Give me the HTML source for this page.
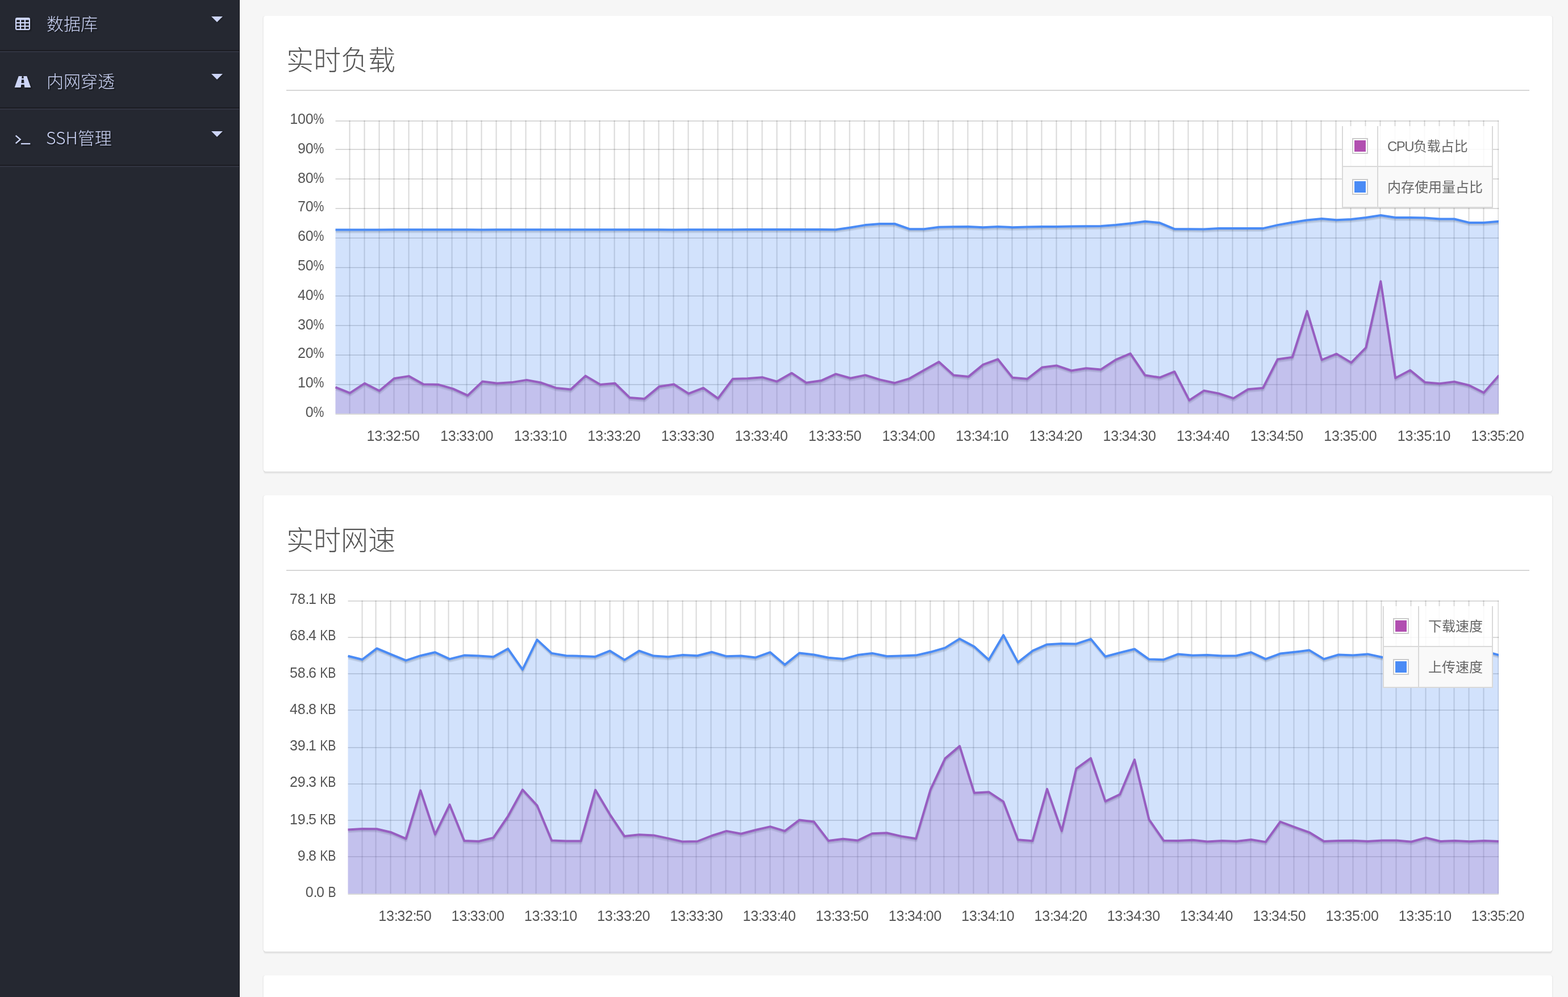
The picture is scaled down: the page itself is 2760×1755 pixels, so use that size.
<!DOCTYPE html>
<html lang="zh-CN">
<head>
<meta charset="utf-8">
<title>服务器监控</title>
<style>
html,body{margin:0;padding:0}
body{width:2760px;height:1755px;overflow:hidden;position:relative;background:#f6f6f6;font-family:"Liberation Sans","Noto Sans CJK SC",sans-serif;color:#545454}
#side{position:absolute;left:0;top:0;width:421px;height:1755px;background:#252831;border-right:1px solid #191a20;overflow:hidden}
#sideline{position:absolute;left:422px;top:0;width:1px;height:1755px;background:#fff}
#side ul{list-style:none;margin:0;padding:0}
#side li{position:absolute;left:0;width:421px;height:97px;border-top:2px solid #323542;border-bottom:2px solid #1b1c22;color:#cdd5f7;font-family:"Noto Sans CJK SC","Liberation Sans",sans-serif;font-size:30px;line-height:97px;font-weight:300}
#side .last{position:absolute;left:0;top:292px;width:421px;height:2px;background:#323542}
#side .nt{position:absolute;left:81px;top:0;white-space:nowrap;text-shadow:2px 2px 1px rgba(0,0,0,.4)}
#side .ic{position:absolute;fill:currentColor;filter:drop-shadow(2px 2px 1px rgba(0,0,0,.4));overflow:visible}
#side .caret{position:absolute;left:372px;top:37.5px;width:0;height:0;border-left:10px solid transparent;border-right:10px solid transparent;border-top:10.5px solid #cdd5f7;filter:drop-shadow(1px 1px 1px rgba(0,0,0,.4))}
.card{position:absolute;left:464px;width:2268px;background:#fff;border-radius:4px;box-shadow:0 2px 0 rgba(0,0,0,.05),0 4px 0 rgba(0,0,0,.045),-2px 0 0 rgba(0,0,0,.03),2px 0 0 rgba(0,0,0,.03)}
.card h2{position:absolute;left:40px;top:47px;margin:0;font-size:48px;line-height:64px;font-weight:300;color:#555;white-space:nowrap}
.card .hr{position:absolute;left:40px;top:130px;width:2188px;height:2px;background:#d6d6d6}
#plot{position:absolute;left:0;top:0}
.yl,.xl{position:absolute;width:200px;height:28px;line-height:28px;font-size:25px;color:#545454;white-space:nowrap;font-family:"Liberation Sans",sans-serif}
.yl{text-align:right;letter-spacing:-0.2px}
.s{display:inline-block;transform:scaleX(.845);transform-origin:right center;letter-spacing:0}
.s.p{margin-left:-3.4px}
.s.k{margin-left:-5.2px}
.s.b{margin-left:-2.6px}
.c{letter-spacing:-1.45px}
.xl{text-align:center;letter-spacing:-0.2px}
.lg{position:absolute;font-size:24px;color:#666}
.lgbg{position:absolute;left:0;top:0;right:0;bottom:0;background:#fff;opacity:.85}
.lgr2{position:absolute;left:2px;right:2px;background:#f9f9f9}
.lgv{position:absolute;top:0;bottom:0;width:2px;background:#d9d9d9}
.lgh{position:absolute;left:0;right:0;height:2px;background:#d9d9d9}
.lgbox{position:absolute;left:18px;width:20px;height:20px;border:2px solid #ccc;padding:2px;background:#fff}
.lgbox i{display:block;width:20px;height:20px}
.lgt{position:absolute;height:70px;line-height:70px;white-space:nowrap;margin-top:0.5px}
.lat{letter-spacing:-1.6px}
</style>
</head>
<body>
<div id="side"><ul>
<li style="top:-11px"><svg class="ic" style="left:27px;top:40px" width="26" height="22" viewBox="0 0 26 22"><path fill-rule="evenodd" d="M3 0h20a3 3 0 0 1 3 3v16a3 3 0 0 1-3 3H3a3 3 0 0 1-3-3V3a3 3 0 0 1 3-3zM2.2 4.3v3.7h5.7V4.3zM10.2 4.3v3.7h5.6V4.3zM18.1 4.3v3.7h5.7V4.3zM2.2 10.2v3.7h5.7v-3.7zM10.2 10.2v3.7h5.6v-3.7zM18.1 10.2v3.7h5.7v-3.7zM2.2 16.1v3.7h5.7v-3.7zM10.2 16.1v3.7h5.6v-3.7zM18.1 16.1v3.7h5.7v-3.7z"/></svg><span class="nt" style="left:82px;top:1px">数据库</span><b class="caret"></b></li>
<li style="top:90px"><svg class="ic" style="left:25px;top:42px" width="30" height="21" viewBox="0 0 30 21"><path d="M7.8 0h5.9l-.5 3.9h3.6L16.3 0h5.9L29.3 20.1H18.3l-.6-5h-5.4l-.6 5H.7zM13 6.3l-.5 6h5l-.5-6z"/></svg><span class="nt" style="left:82px;top:1px">内网穿透</span><b class="caret"></b></li>
<li style="top:191px"><svg class="ic" style="left:25px;top:42.5px" width="30" height="20" viewBox="0 0 30 20"><path d="M2.7 2.6l8 6.9-8 6.9" fill="none" stroke="currentColor" stroke-width="2.4"/><rect x="12" y="15.9" width="16.3" height="2.3"/></svg><span class="nt" style="left:81px;top:0px">SSH管理</span><b class="caret"></b></li>
</ul><div class="last"></div></div>
<div id="sideline"></div>
<div class="card" style="top:28px;height:802px"><h2>实时负载</h2><div class="hr"></div></div>
<div class="card" style="top:872px;height:803px"><h2 style="top:48px">实时网速</h2><div class="hr" style="top:131px"></div></div>
<div class="card" style="top:1717px;height:200px"></div>
<svg id="plot" width="2638" height="1755" viewBox="0 0 2638 1755"><g transform="translate(0.5,0)">
<path d="M615 212V728M641 212V728M667 212V728M693 212V728M719 212V728M743 212V728M769 212V728M795 212V728M821 212V728M847 212V728M873 212V728M899 212V728M925 212V728M951 212V728M977 212V728M1003 212V728M1029 212V728M1055 212V728M1081 212V728M1107 212V728M1133 212V728M1159 212V728M1185 212V728M1211 212V728M1237 212V728M1263 212V728M1289 212V728M1315 212V728M1341 212V728M1367 212V728M1391 212V728M1417 212V728M1443 212V728M1469 212V728M1495 212V728M1521 212V728M1547 212V728M1573 212V728M1599 212V728M1625 212V728M1651 212V728M1677 212V728M1703 212V728M1729 212V728M1755 212V728M1781 212V728M1807 212V728M1833 212V728M1859 212V728M1885 212V728M1911 212V728M1937 212V728M1963 212V728M1989 212V728M2015 212V728M2039 212V728M2065 212V728M2091 212V728M2117 212V728M2143 212V728M2169 212V728M2195 212V728M2221 212V728M2247 212V728M2273 212V728M2299 212V728M2325 212V728M2351 212V728M2377 212V728M2403 212V728M2429 212V728M2455 212V728M2481 212V728M2507 212V728M2533 212V728M2559 212V728M2585 212V728M2611 212V728M2637 212V728" stroke="rgba(0,0,0,0.15)" stroke-width="2" fill="none"/>
<path d="M590 213H2638M590 263H2638M590 315H2638M590 367H2638M590 419H2638M590 471H2638M590 521H2638M590 573H2638M590 625H2638M590 677H2638M590 729H2638" stroke="rgba(0,0,0,0.15)" stroke-width="2" fill="none"/>
<polyline points="590.7,685.5 616.1,695.7 642,678.7 668,691.9 693.9,670.2 719.8,666 745.7,680.4 771.6,680.8 797.6,688.3 823.5,700 849.4,675.5 875.3,678.7 901.2,677 927.2,672.8 953.1,677.7 979,686.8 1004.9,689.4 1030.8,665.5 1056.8,680.8 1082.7,678.7 1108.6,703.8 1134.5,705.9 1160.4,684.5 1186.4,680.4 1212.3,696.8 1238.2,686.8 1264.1,705.3 1290,670.9 1316,670.2 1341.9,668.1 1367.8,675.5 1393.7,660.6 1419.6,677.7 1445.6,674 1471.5,662.3 1497.4,669.6 1523.3,664.3 1549.2,672.3 1575.2,678.1 1601.1,670.2 1627,655.5 1652.9,640.9 1678.8,664.3 1704.8,667 1730.7,645.8 1756.6,636.2 1782.5,668.7 1808.4,670.9 1834.4,650.7 1860.3,647.5 1886.2,656.4 1912.1,652.1 1938,654.3 1964,637.3 1989.9,626.2 2015.8,664.5 2041.7,668.5 2067.6,658.1 2093.6,708.5 2119.5,691.5 2145.4,696.5 2171.3,705 2197.2,689.1 2223.2,687 2249.1,636.4 2275,632.7 2300.9,551.5 2326.8,637.4 2352.8,626.8 2378.7,642.3 2404.6,615.7 2430.5,499.2 2456.4,669.5 2482.3,655.7 2508.3,676.8 2534.2,679.1 2560.1,675.9 2586,682.1 2612,695.1 2638.7,664.6" fill="none" stroke="rgba(0,0,0,0.1)" stroke-width="4" stroke-linejoin="round"/>
<polyline points="590.5,684.6 615.9,694.8 641.9,677.8 667.8,691 693.7,669.2 719.6,665.1 745.5,679.5 771.5,679.9 797.4,687.4 823.3,699.1 849.2,674.6 875.1,677.8 901.1,676.1 927,671.9 952.9,676.8 978.8,685.9 1004.7,688.5 1030.7,664.6 1056.6,679.9 1082.5,677.8 1108.4,702.9 1134.3,705 1160.3,683.6 1186.2,679.5 1212.1,695.9 1238,685.9 1263.9,704.4 1289.9,670 1315.8,669.2 1341.7,667.2 1367.6,674.6 1393.5,659.7 1419.5,676.8 1445.4,673.1 1471.3,661.4 1497.2,668.7 1523.1,663.4 1549.1,671.4 1575,677.2 1600.9,669.2 1626.8,654.6 1652.7,640 1678.7,663.4 1704.6,666.1 1730.5,644.9 1756.4,635.2 1782.3,667.8 1808.3,670 1834.2,649.8 1860.1,646.6 1886,655.5 1911.9,651.2 1937.9,653.4 1963.8,636.4 1989.7,625.2 2015.6,663.6 2041.5,667.6 2067.5,657.2 2093.4,707.6 2119.3,690.6 2145.2,695.6 2171.1,704.1 2197.1,688.2 2223,686.1 2248.9,635.5 2274.8,631.8 2300.7,550.6 2326.7,636.5 2352.6,625.9 2378.5,641.4 2404.4,614.8 2430.3,498.2 2456.3,668.6 2482.2,654.8 2508.1,675.9 2534,678.2 2559.9,675 2585.9,681.2 2611.8,694.2 2638.5,663.7" fill="none" stroke="rgba(0,0,0,0.1)" stroke-width="2" stroke-linejoin="round"/>
<polygon points="590,728 590,681.6 615.4,691.8 641.3,674.8 667.3,688 693.2,666.3 719.1,662.1 745,676.5 770.9,676.9 796.9,684.4 822.8,696.1 848.7,671.6 874.6,674.8 900.5,673.1 926.5,668.9 952.4,673.8 978.3,682.9 1004.2,685.5 1030.1,661.6 1056.1,676.9 1082,674.8 1107.9,699.9 1133.8,702 1159.7,680.6 1185.7,676.5 1211.6,692.9 1237.5,682.9 1263.4,701.4 1289.3,667 1315.3,666.3 1341.2,664.2 1367.1,671.6 1393,656.7 1418.9,673.8 1444.9,670.1 1470.8,658.4 1496.7,665.7 1522.6,660.4 1548.5,668.4 1574.5,674.2 1600.4,666.3 1626.3,651.6 1652.2,637 1678.1,660.4 1704.1,663.1 1730,641.9 1755.9,632.3 1781.8,664.8 1807.7,667 1833.7,646.8 1859.6,643.6 1885.5,652.5 1911.4,648.2 1937.3,650.4 1963.3,633.4 1989.2,622.3 2015.1,660.6 2041,664.6 2066.9,654.2 2092.9,704.6 2118.8,687.6 2144.7,692.6 2170.6,701.1 2196.5,685.2 2222.5,683.1 2248.4,632.5 2274.3,628.8 2300.2,547.6 2326.1,633.5 2352.1,622.9 2378,638.4 2403.9,611.8 2429.8,495.3 2455.7,665.6 2481.7,651.8 2507.6,672.9 2533.5,675.2 2559.4,672 2585.3,678.2 2611.3,691.2 2638,660.7 2638,728" fill="#b14fb0" fill-opacity="0.25"/>
<polyline points="590,681.6 615.4,691.8 641.3,674.8 667.3,688 693.2,666.3 719.1,662.1 745,676.5 770.9,676.9 796.9,684.4 822.8,696.1 848.7,671.6 874.6,674.8 900.5,673.1 926.5,668.9 952.4,673.8 978.3,682.9 1004.2,685.5 1030.1,661.6 1056.1,676.9 1082,674.8 1107.9,699.9 1133.8,702 1159.7,680.6 1185.7,676.5 1211.6,692.9 1237.5,682.9 1263.4,701.4 1289.3,667 1315.3,666.3 1341.2,664.2 1367.1,671.6 1393,656.7 1418.9,673.8 1444.9,670.1 1470.8,658.4 1496.7,665.7 1522.6,660.4 1548.5,668.4 1574.5,674.2 1600.4,666.3 1626.3,651.6 1652.2,637 1678.1,660.4 1704.1,663.1 1730,641.9 1755.9,632.3 1781.8,664.8 1807.7,667 1833.7,646.8 1859.6,643.6 1885.5,652.5 1911.4,648.2 1937.3,650.4 1963.3,633.4 1989.2,622.3 2015.1,660.6 2041,664.6 2066.9,654.2 2092.9,704.6 2118.8,687.6 2144.7,692.6 2170.6,701.1 2196.5,685.2 2222.5,683.1 2248.4,632.5 2274.3,628.8 2300.2,547.6 2326.1,633.5 2352.1,622.9 2378,638.4 2403.9,611.8 2429.8,495.3 2455.7,665.6 2481.7,651.8 2507.6,672.9 2533.5,675.2 2559.4,672 2585.3,678.2 2611.3,691.2 2638,660.7" fill="none" stroke="#b14fb0" stroke-width="4" stroke-linejoin="round"/>
<polyline points="590.7,408.5 616.1,408.5 642,408.5 668,408.5 693.9,408.2 719.8,408.2 745.7,408.2 771.6,408.2 797.6,408.2 823.5,408.2 849.4,408.5 875.3,408.2 901.2,408.2 927.2,408.2 953.1,408.2 979,408.2 1004.9,408.2 1030.8,408.2 1056.8,408.2 1082.7,408.2 1108.6,408.1 1134.5,408.1 1160.4,408.1 1186.4,408.5 1212.3,408.2 1238.2,408.2 1264.1,408.2 1290,408.2 1316,408 1341.9,407.9 1367.8,407.9 1393.7,407.9 1419.6,407.9 1445.6,407.9 1471.5,408.1 1497.4,404.3 1523.3,400 1549.2,397.9 1575.2,397.9 1601.1,407.1 1627,407.1 1652.9,403.7 1678.8,403.2 1704.8,402.8 1730.7,404.1 1756.6,403 1782.5,404.1 1808.4,403.4 1834.4,402.8 1860.3,402.8 1886.2,402.4 1912.1,402.2 1938,402 1964,400 1989.9,397.1 2015.8,393.7 2041.7,396.2 2067.6,407.1 2093.6,407.1 2119.5,407.5 2145.4,406 2171.3,406 2197.2,406 2223.2,406 2249.1,400 2275,395.4 2300.9,391.5 2326.8,389 2352.8,391.1 2378.7,389.8 2404.6,386.9 2430.5,383 2456.4,386.9 2482.3,386.9 2508.3,387.3 2534.2,389.4 2560.1,389.4 2586,395.8 2612,395.8 2638.7,393.7" fill="none" stroke="rgba(0,0,0,0.1)" stroke-width="4" stroke-linejoin="round"/>
<polyline points="590.5,407.6 615.9,407.6 641.9,407.6 667.8,407.6 693.7,407.2 719.6,407.2 745.5,407.2 771.5,407.2 797.4,407.2 823.3,407.2 849.2,407.6 875.1,407.2 901.1,407.2 927,407.2 952.9,407.2 978.8,407.2 1004.7,407.2 1030.7,407.2 1056.6,407.2 1082.5,407.2 1108.4,407.1 1134.3,407.1 1160.3,407.1 1186.2,407.6 1212.1,407.2 1238,407.2 1263.9,407.2 1289.9,407.2 1315.8,407.1 1341.7,406.9 1367.6,406.9 1393.5,406.9 1419.5,406.9 1445.4,406.9 1471.3,407.1 1497.2,403.3 1523.1,399.1 1549.1,396.9 1575,396.9 1600.9,406.1 1626.8,406.1 1652.7,402.8 1678.7,402.2 1704.6,401.8 1730.5,403.1 1756.4,402.1 1782.3,403.1 1808.3,402.4 1834.2,401.8 1860.1,401.8 1886,401.4 1911.9,401.2 1937.9,401.1 1963.8,399.1 1989.7,396.1 2015.6,392.8 2041.5,395.2 2067.5,406.1 2093.4,406.1 2119.3,406.6 2145.2,405.1 2171.1,405.1 2197.1,405.1 2223,405.1 2248.9,399.1 2274.8,394.4 2300.7,390.6 2326.7,388.1 2352.6,390.1 2378.5,388.8 2404.4,385.9 2430.3,382.1 2456.3,385.9 2482.2,385.9 2508.1,386.3 2534,388.4 2559.9,388.4 2585.9,394.8 2611.8,394.8 2638.5,392.8" fill="none" stroke="rgba(0,0,0,0.1)" stroke-width="2" stroke-linejoin="round"/>
<polygon points="590,728 590,404.6 615.4,404.6 641.3,404.6 667.3,404.6 693.2,404.3 719.1,404.3 745,404.3 770.9,404.3 796.9,404.3 822.8,404.3 848.7,404.6 874.6,404.3 900.5,404.3 926.5,404.3 952.4,404.3 978.3,404.3 1004.2,404.3 1030.1,404.3 1056.1,404.3 1082,404.3 1107.9,404.2 1133.8,404.2 1159.7,404.2 1185.7,404.6 1211.6,404.3 1237.5,404.3 1263.4,404.3 1289.3,404.3 1315.3,404.1 1341.2,404 1367.1,404 1393,404 1418.9,404 1444.9,404 1470.8,404.2 1496.7,400.4 1522.6,396.1 1548.5,394 1574.5,394 1600.4,403.2 1626.3,403.2 1652.2,399.8 1678.1,399.3 1704.1,398.9 1730,400.2 1755.9,399.1 1781.8,400.2 1807.7,399.5 1833.7,398.9 1859.6,398.9 1885.5,398.5 1911.4,398.3 1937.3,398.1 1963.3,396.1 1989.2,393.2 2015.1,389.8 2041,392.3 2066.9,403.2 2092.9,403.2 2118.8,403.6 2144.7,402.1 2170.6,402.1 2196.5,402.1 2222.5,402.1 2248.4,396.1 2274.3,391.5 2300.2,387.6 2326.1,385.1 2352.1,387.2 2378,385.9 2403.9,383 2429.8,379.1 2455.7,383 2481.7,383 2507.6,383.4 2533.5,385.5 2559.4,385.5 2585.3,391.9 2611.3,391.9 2638,389.8 2638,728" fill="#4a8bf5" fill-opacity="0.25"/>
<polyline points="590,404.6 615.4,404.6 641.3,404.6 667.3,404.6 693.2,404.3 719.1,404.3 745,404.3 770.9,404.3 796.9,404.3 822.8,404.3 848.7,404.6 874.6,404.3 900.5,404.3 926.5,404.3 952.4,404.3 978.3,404.3 1004.2,404.3 1030.1,404.3 1056.1,404.3 1082,404.3 1107.9,404.2 1133.8,404.2 1159.7,404.2 1185.7,404.6 1211.6,404.3 1237.5,404.3 1263.4,404.3 1289.3,404.3 1315.3,404.1 1341.2,404 1367.1,404 1393,404 1418.9,404 1444.9,404 1470.8,404.2 1496.7,400.4 1522.6,396.1 1548.5,394 1574.5,394 1600.4,403.2 1626.3,403.2 1652.2,399.8 1678.1,399.3 1704.1,398.9 1730,400.2 1755.9,399.1 1781.8,400.2 1807.7,399.5 1833.7,398.9 1859.6,398.9 1885.5,398.5 1911.4,398.3 1937.3,398.1 1963.3,396.1 1989.2,393.2 2015.1,389.8 2041,392.3 2066.9,403.2 2092.9,403.2 2118.8,403.6 2144.7,402.1 2170.6,402.1 2196.5,402.1 2222.5,402.1 2248.4,396.1 2274.3,391.5 2300.2,387.6 2326.1,385.1 2352.1,387.2 2378,385.9 2403.9,383 2429.8,379.1 2455.7,383 2481.7,383 2507.6,383.4 2533.5,385.5 2559.4,385.5 2585.3,391.9 2611.3,391.9 2638,389.8" fill="none" stroke="#4a8bf5" stroke-width="4" stroke-linejoin="round"/>
<path d="M637 1057V1573M661 1057V1573M687 1057V1573M713 1057V1573M739 1057V1573M765 1057V1573M789 1057V1573M815 1057V1573M841 1057V1573M867 1057V1573M893 1057V1573M919 1057V1573M943 1057V1573M969 1057V1573M995 1057V1573M1021 1057V1573M1047 1057V1573M1073 1057V1573M1097 1057V1573M1123 1057V1573M1149 1057V1573M1175 1057V1573M1201 1057V1573M1225 1057V1573M1251 1057V1573M1277 1057V1573M1303 1057V1573M1329 1057V1573M1355 1057V1573M1379 1057V1573M1405 1057V1573M1431 1057V1573M1457 1057V1573M1483 1057V1573M1509 1057V1573M1533 1057V1573M1559 1057V1573M1585 1057V1573M1611 1057V1573M1637 1057V1573M1661 1057V1573M1687 1057V1573M1713 1057V1573M1739 1057V1573M1765 1057V1573M1791 1057V1573M1815 1057V1573M1841 1057V1573M1867 1057V1573M1893 1057V1573M1919 1057V1573M1945 1057V1573M1969 1057V1573M1995 1057V1573M2021 1057V1573M2047 1057V1573M2073 1057V1573M2097 1057V1573M2123 1057V1573M2149 1057V1573M2175 1057V1573M2201 1057V1573M2227 1057V1573M2251 1057V1573M2277 1057V1573M2303 1057V1573M2329 1057V1573M2355 1057V1573M2381 1057V1573M2405 1057V1573M2431 1057V1573M2457 1057V1573M2483 1057V1573M2509 1057V1573M2533 1057V1573M2559 1057V1573M2585 1057V1573M2611 1057V1573M2637 1057V1573" stroke="rgba(0,0,0,0.15)" stroke-width="2" fill="none"/>
<path d="M612 1058H2638M612 1122H2638M612 1186H2638M612 1250H2638M612 1316H2638M612 1380H2638M612 1444H2638M612 1508H2638M612 1574H2638" stroke="rgba(0,0,0,0.15)" stroke-width="2" fill="none"/>
<polyline points="612.7,1464.3 637.8,1462.8 663.5,1463.2 689.1,1469.2 714.8,1480.2 740.4,1395.2 766.1,1472.8 791.7,1420.3 817.4,1483.8 843,1484.9 868.7,1478.5 894.3,1440.9 920,1394.1 945.6,1421.7 971.3,1483.4 996.9,1484.5 1022.6,1484.5 1048.2,1394.5 1073.9,1437.7 1099.5,1476 1125.2,1473.2 1150.8,1474.3 1176.4,1479.8 1202.1,1485.5 1227.7,1484.9 1253.4,1474.9 1279,1466.8 1304.7,1471.7 1330.3,1464.9 1356,1459 1381.6,1466.8 1407.3,1447.3 1432.9,1450.4 1458.6,1484 1484.2,1480.6 1509.9,1483.4 1535.5,1471.1 1561.2,1470.2 1586.8,1476 1612.5,1480.2 1638.1,1393.8 1663.8,1339 1689.4,1317.3 1715.1,1399.6 1740.7,1398.1 1766.4,1415.1 1792,1482.1 1817.6,1484.2 1843.3,1392.8 1868.9,1466.6 1894.6,1357.1 1920.2,1338.6 1945.9,1414.5 1971.5,1402.3 1997.2,1341.1 2022.8,1446.6 2048.5,1483.6 2074.1,1483.8 2099.8,1482.7 2125.4,1485.3 2151.1,1483.8 2176.7,1484.9 2202.4,1481.9 2228,1486 2253.7,1450.4 2279.3,1460 2305,1469.2 2330.6,1484.9 2356.3,1484 2381.9,1483.6 2407.5,1484.9 2433.2,1483.4 2458.8,1483.4 2484.5,1485.7 2510.1,1478.5 2535.8,1484.9 2561.4,1483.8 2587.1,1485.1 2612.7,1484 2638.7,1484.9" fill="none" stroke="rgba(0,0,0,0.1)" stroke-width="4" stroke-linejoin="round"/>
<polyline points="612.5,1463.4 637.7,1461.9 663.3,1462.2 689,1468.2 714.6,1479.2 740.3,1394.2 765.9,1471.9 791.6,1419.4 817.2,1482.9 842.9,1484 868.5,1477.5 894.1,1440 919.8,1393.2 945.4,1420.8 971.1,1482.5 996.7,1483.5 1022.4,1483.5 1048,1393.5 1073.7,1436.8 1099.3,1475 1125,1472.2 1150.6,1473.4 1176.3,1478.9 1201.9,1484.5 1227.6,1484 1253.2,1474 1278.9,1465.9 1304.5,1470.8 1330.2,1464 1355.8,1458 1381.5,1465.9 1407.1,1446.4 1432.8,1449.5 1458.4,1483 1484.1,1479.7 1509.7,1482.5 1535.3,1470.2 1561,1469.2 1586.6,1475 1612.3,1479.2 1637.9,1392.9 1663.6,1338 1689.2,1316.4 1714.9,1398.7 1740.5,1397.2 1766.2,1414.2 1791.8,1481.2 1817.5,1483.2 1843.1,1391.9 1868.8,1465.7 1894.4,1356.2 1920.1,1337.7 1945.7,1413.5 1971.4,1401.4 1997,1340.2 2022.7,1445.7 2048.3,1482.7 2074,1482.9 2099.6,1481.8 2125.3,1484.4 2150.9,1482.9 2176.5,1484 2202.2,1481 2227.8,1485 2253.5,1449.5 2279.1,1459 2304.8,1468.2 2330.4,1484 2356.1,1483 2381.7,1482.7 2407.4,1484 2433,1482.5 2458.7,1482.5 2484.3,1484.8 2510,1477.5 2535.6,1484 2561.3,1482.9 2586.9,1484.2 2612.6,1483 2638.5,1484" fill="none" stroke="rgba(0,0,0,0.1)" stroke-width="2" stroke-linejoin="round"/>
<polygon points="612,1573 612,1460.4 637.1,1458.9 662.8,1459.3 688.4,1465.3 714.1,1476.3 739.7,1391.3 765.4,1468.9 791,1416.4 816.7,1479.9 842.3,1481 868,1474.6 893.6,1437 919.3,1390.2 944.9,1417.8 970.6,1479.5 996.2,1480.6 1021.9,1480.6 1047.5,1390.6 1073.2,1433.8 1098.8,1472.1 1124.5,1469.3 1150.1,1470.4 1175.8,1475.9 1201.4,1481.6 1227.1,1481 1252.7,1471 1278.3,1462.9 1304,1467.8 1329.6,1461 1355.3,1455.1 1380.9,1462.9 1406.6,1443.4 1432.2,1446.5 1457.9,1480.1 1483.5,1476.7 1509.2,1479.5 1534.8,1467.2 1560.5,1466.3 1586.1,1472.1 1611.8,1476.3 1637.4,1389.9 1663.1,1335.1 1688.7,1313.4 1714.4,1395.7 1740,1394.2 1765.7,1411.2 1791.3,1478.2 1817,1480.3 1842.6,1388.9 1868.3,1462.7 1893.9,1353.2 1919.5,1334.7 1945.2,1410.6 1970.8,1398.4 1996.5,1337.2 2022.1,1442.7 2047.8,1479.7 2073.4,1479.9 2099.1,1478.8 2124.7,1481.4 2150.4,1479.9 2176,1481 2201.7,1478 2227.3,1482.1 2253,1446.5 2278.6,1456.1 2304.3,1465.3 2329.9,1481 2355.6,1480.1 2381.2,1479.7 2406.9,1481 2432.5,1479.5 2458.2,1479.5 2483.8,1481.8 2509.5,1474.6 2535.1,1481 2560.7,1479.9 2586.4,1481.2 2612,1480.1 2638,1481 2638,1573" fill="#b14fb0" fill-opacity="0.25"/>
<polyline points="612,1460.4 637.1,1458.9 662.8,1459.3 688.4,1465.3 714.1,1476.3 739.7,1391.3 765.4,1468.9 791,1416.4 816.7,1479.9 842.3,1481 868,1474.6 893.6,1437 919.3,1390.2 944.9,1417.8 970.6,1479.5 996.2,1480.6 1021.9,1480.6 1047.5,1390.6 1073.2,1433.8 1098.8,1472.1 1124.5,1469.3 1150.1,1470.4 1175.8,1475.9 1201.4,1481.6 1227.1,1481 1252.7,1471 1278.3,1462.9 1304,1467.8 1329.6,1461 1355.3,1455.1 1380.9,1462.9 1406.6,1443.4 1432.2,1446.5 1457.9,1480.1 1483.5,1476.7 1509.2,1479.5 1534.8,1467.2 1560.5,1466.3 1586.1,1472.1 1611.8,1476.3 1637.4,1389.9 1663.1,1335.1 1688.7,1313.4 1714.4,1395.7 1740,1394.2 1765.7,1411.2 1791.3,1478.2 1817,1480.3 1842.6,1388.9 1868.3,1462.7 1893.9,1353.2 1919.5,1334.7 1945.2,1410.6 1970.8,1398.4 1996.5,1337.2 2022.1,1442.7 2047.8,1479.7 2073.4,1479.9 2099.1,1478.8 2124.7,1481.4 2150.4,1479.9 2176,1481 2201.7,1478 2227.3,1482.1 2253,1446.5 2278.6,1456.1 2304.3,1465.3 2329.9,1481 2355.6,1480.1 2381.2,1479.7 2406.9,1481 2432.5,1479.5 2458.2,1479.5 2483.8,1481.8 2509.5,1474.6 2535.1,1481 2560.7,1479.9 2586.4,1481.2 2612,1480.1 2638,1481" fill="none" stroke="#b14fb0" stroke-width="4" stroke-linejoin="round"/>
<polyline points="612.7,1158.7 637.8,1164.9 663.5,1145.3 689.1,1156 714.8,1166.6 740.4,1158.1 766.1,1152.1 791.7,1164 817.4,1157.5 843,1158.5 868.7,1160.2 894.3,1145.8 920,1182.5 945.6,1130 971.3,1153.8 996.9,1158.1 1022.6,1158.9 1048.2,1159.8 1073.9,1149.6 1099.5,1165.5 1125.2,1149.6 1150.8,1158.5 1176.4,1160.2 1202.1,1157 1227.7,1158.1 1253.4,1151.7 1279,1159.2 1304.7,1158.5 1330.3,1161.3 1356,1152.1 1381.6,1174 1407.3,1153.4 1432.9,1156.4 1458.6,1161.7 1484.2,1164 1509.9,1157 1535.5,1153.8 1561.2,1159.2 1586.8,1158.5 1612.5,1157.5 1638.1,1151.7 1663.8,1144.3 1689.4,1128.3 1715.1,1142.1 1740.7,1165.5 1766.4,1121.9 1792,1169.8 1817.6,1149.6 1843.3,1138.3 1868.9,1136.8 1894.6,1137.3 1920.2,1128.7 1945.9,1159.6 1971.5,1152.8 1997.2,1146.4 2022.8,1164.5 2048.5,1165.1 2074.1,1155.3 2099.8,1157.7 2125.4,1157 2151.1,1158.5 2176.7,1158.1 2202.4,1152.1 2228,1164 2253.7,1154.5 2279.3,1151.7 2305,1148.5 2330.6,1164 2356.3,1156.4 2381.9,1157.5 2407.5,1155.3 2433.2,1160.9 2458.8,1157.9 2484.5,1155.9 2510.1,1159.9 2535.8,1153.9 2561.4,1157.9 2587.1,1158.9 2612.7,1149.9 2638.7,1157" fill="none" stroke="rgba(0,0,0,0.1)" stroke-width="4" stroke-linejoin="round"/>
<polyline points="612.5,1157.8 637.7,1164 663.3,1144.4 689,1155 714.6,1165.7 740.3,1157.2 765.9,1151.2 791.6,1163 817.2,1156.5 842.9,1157.5 868.5,1159.2 894.1,1144.9 919.8,1181.5 945.4,1129 971.1,1152.9 996.7,1157.2 1022.4,1158 1048,1158.9 1073.7,1148.7 1099.3,1164.5 1125,1148.7 1150.6,1157.5 1176.3,1159.2 1201.9,1156 1227.6,1157.2 1253.2,1150.8 1278.9,1158.2 1304.5,1157.5 1330.2,1160.4 1355.8,1151.2 1381.5,1173 1407.1,1152.5 1432.8,1155.5 1458.4,1160.8 1484.1,1163 1509.7,1156 1535.3,1152.9 1561,1158.2 1586.6,1157.5 1612.3,1156.5 1637.9,1150.8 1663.6,1143.4 1689.2,1127.4 1714.9,1141.2 1740.5,1164.5 1766.2,1121 1791.8,1168.9 1817.5,1148.7 1843.1,1137.4 1868.8,1135.9 1894.4,1136.4 1920.1,1127.8 1945.7,1158.7 1971.4,1151.9 1997,1145.5 2022.7,1163.5 2048.3,1164.2 2074,1154.4 2099.6,1156.8 2125.3,1156 2150.9,1157.5 2176.5,1157.2 2202.2,1151.2 2227.8,1163 2253.5,1153.5 2279.1,1150.8 2304.8,1147.5 2330.4,1163 2356.1,1155.5 2381.7,1156.5 2407.4,1154.4 2433,1160 2458.7,1157 2484.3,1155 2510,1159 2535.6,1153 2561.3,1157 2586.9,1158 2612.6,1149 2638.5,1156" fill="none" stroke="rgba(0,0,0,0.1)" stroke-width="2" stroke-linejoin="round"/>
<polygon points="612,1573 612,1154.8 637.1,1161 662.8,1141.4 688.4,1152.1 714.1,1162.7 739.7,1154.2 765.4,1148.2 791,1160.1 816.7,1153.6 842.3,1154.6 868,1156.3 893.6,1141.9 919.3,1178.6 944.9,1126.1 970.6,1149.9 996.2,1154.2 1021.9,1155 1047.5,1155.9 1073.2,1145.7 1098.8,1161.6 1124.5,1145.7 1150.1,1154.6 1175.8,1156.3 1201.4,1153.1 1227.1,1154.2 1252.7,1147.8 1278.3,1155.3 1304,1154.6 1329.6,1157.4 1355.3,1148.2 1380.9,1170.1 1406.6,1149.5 1432.2,1152.5 1457.9,1157.8 1483.5,1160.1 1509.2,1153.1 1534.8,1149.9 1560.5,1155.3 1586.1,1154.6 1611.8,1153.6 1637.4,1147.8 1663.1,1140.4 1688.7,1124.4 1714.4,1138.2 1740,1161.6 1765.7,1118 1791.3,1165.9 1817,1145.7 1842.6,1134.4 1868.3,1132.9 1893.9,1133.4 1919.5,1124.8 1945.2,1155.7 1970.8,1148.9 1996.5,1142.5 2022.1,1160.6 2047.8,1161.2 2073.4,1151.4 2099.1,1153.8 2124.7,1153.1 2150.4,1154.6 2176,1154.2 2201.7,1148.2 2227.3,1160.1 2253,1150.6 2278.6,1147.8 2304.3,1144.6 2329.9,1160.1 2355.6,1152.5 2381.2,1153.6 2406.9,1151.4 2432.5,1157 2458.2,1154 2483.8,1152 2509.5,1156 2535.1,1150 2560.7,1154 2586.4,1155 2612,1146 2638,1153.1 2638,1573" fill="#4a8bf5" fill-opacity="0.25"/>
<polyline points="612,1154.8 637.1,1161 662.8,1141.4 688.4,1152.1 714.1,1162.7 739.7,1154.2 765.4,1148.2 791,1160.1 816.7,1153.6 842.3,1154.6 868,1156.3 893.6,1141.9 919.3,1178.6 944.9,1126.1 970.6,1149.9 996.2,1154.2 1021.9,1155 1047.5,1155.9 1073.2,1145.7 1098.8,1161.6 1124.5,1145.7 1150.1,1154.6 1175.8,1156.3 1201.4,1153.1 1227.1,1154.2 1252.7,1147.8 1278.3,1155.3 1304,1154.6 1329.6,1157.4 1355.3,1148.2 1380.9,1170.1 1406.6,1149.5 1432.2,1152.5 1457.9,1157.8 1483.5,1160.1 1509.2,1153.1 1534.8,1149.9 1560.5,1155.3 1586.1,1154.6 1611.8,1153.6 1637.4,1147.8 1663.1,1140.4 1688.7,1124.4 1714.4,1138.2 1740,1161.6 1765.7,1118 1791.3,1165.9 1817,1145.7 1842.6,1134.4 1868.3,1132.9 1893.9,1133.4 1919.5,1124.8 1945.2,1155.7 1970.8,1148.9 1996.5,1142.5 2022.1,1160.6 2047.8,1161.2 2073.4,1151.4 2099.1,1153.8 2124.7,1153.1 2150.4,1154.6 2176,1154.2 2201.7,1148.2 2227.3,1160.1 2253,1150.6 2278.6,1147.8 2304.3,1144.6 2329.9,1160.1 2355.6,1152.5 2381.2,1153.6 2406.9,1151.4 2432.5,1157 2458.2,1154 2483.8,1152 2509.5,1156 2535.1,1150 2560.7,1154 2586.4,1155 2612,1146 2638,1153.1" fill="none" stroke="#4a8bf5" stroke-width="4" stroke-linejoin="round"/>
</g></svg>
<div class="yl" style="left:370.2px;top:195px">100<span class="s p">%</span></div>
<div class="yl" style="left:370.2px;top:247px">90<span class="s p">%</span></div>
<div class="yl" style="left:370.2px;top:299px">80<span class="s p">%</span></div>
<div class="yl" style="left:370.2px;top:349px">70<span class="s p">%</span></div>
<div class="yl" style="left:370.2px;top:401px">60<span class="s p">%</span></div>
<div class="yl" style="left:370.2px;top:453px">50<span class="s p">%</span></div>
<div class="yl" style="left:370.2px;top:505px">40<span class="s p">%</span></div>
<div class="yl" style="left:370.2px;top:557px">30<span class="s p">%</span></div>
<div class="yl" style="left:370.2px;top:607px">20<span class="s p">%</span></div>
<div class="yl" style="left:370.2px;top:659px">10<span class="s p">%</span></div>
<div class="yl" style="left:370.2px;top:711px">0<span class="s p">%</span></div>
<div class="yl" style="left:391.6px;top:1040px">78<span class="c">.</span>1 <span class="s k">KB</span></div>
<div class="yl" style="left:391.6px;top:1104px">68<span class="c">.</span>4 <span class="s k">KB</span></div>
<div class="yl" style="left:391.6px;top:1170px">58<span class="c">.</span>6 <span class="s k">KB</span></div>
<div class="yl" style="left:391.6px;top:1234px">48<span class="c">.</span>8 <span class="s k">KB</span></div>
<div class="yl" style="left:391.6px;top:1298px">39<span class="c">.</span>1 <span class="s k">KB</span></div>
<div class="yl" style="left:391.6px;top:1362px">29<span class="c">.</span>3 <span class="s k">KB</span></div>
<div class="yl" style="left:391.6px;top:1428px">19<span class="c">.</span>5 <span class="s k">KB</span></div>
<div class="yl" style="left:391.6px;top:1492px">9<span class="c">.</span>8 <span class="s k">KB</span></div>
<div class="yl" style="left:391.6px;top:1556px">0<span class="c">.</span>0 <span class="s b">B</span></div>
<div class="xl" style="left:592.1px;top:753px">13<span class="c">:</span>32<span class="c">:</span>50</div>
<div class="xl" style="left:612.9px;top:1598px">13<span class="c">:</span>32<span class="c">:</span>50</div>
<div class="xl" style="left:721.7px;top:753px">13<span class="c">:</span>33<span class="c">:</span>00</div>
<div class="xl" style="left:741.2px;top:1598px">13<span class="c">:</span>33<span class="c">:</span>00</div>
<div class="xl" style="left:851.3px;top:753px">13<span class="c">:</span>33<span class="c">:</span>10</div>
<div class="xl" style="left:869.4px;top:1598px">13<span class="c">:</span>33<span class="c">:</span>10</div>
<div class="xl" style="left:980.9px;top:753px">13<span class="c">:</span>33<span class="c">:</span>20</div>
<div class="xl" style="left:997.7px;top:1598px">13<span class="c">:</span>33<span class="c">:</span>20</div>
<div class="xl" style="left:1110.5px;top:753px">13<span class="c">:</span>33<span class="c">:</span>30</div>
<div class="xl" style="left:1125.9px;top:1598px">13<span class="c">:</span>33<span class="c">:</span>30</div>
<div class="xl" style="left:1240.1px;top:753px">13<span class="c">:</span>33<span class="c">:</span>40</div>
<div class="xl" style="left:1254.1px;top:1598px">13<span class="c">:</span>33<span class="c">:</span>40</div>
<div class="xl" style="left:1369.7px;top:753px">13<span class="c">:</span>33<span class="c">:</span>50</div>
<div class="xl" style="left:1382.4px;top:1598px">13<span class="c">:</span>33<span class="c">:</span>50</div>
<div class="xl" style="left:1499.3px;top:753px">13<span class="c">:</span>34<span class="c">:</span>00</div>
<div class="xl" style="left:1510.6px;top:1598px">13<span class="c">:</span>34<span class="c">:</span>00</div>
<div class="xl" style="left:1628.9px;top:753px">13<span class="c">:</span>34<span class="c">:</span>10</div>
<div class="xl" style="left:1638.9px;top:1598px">13<span class="c">:</span>34<span class="c">:</span>10</div>
<div class="xl" style="left:1758.5px;top:753px">13<span class="c">:</span>34<span class="c">:</span>20</div>
<div class="xl" style="left:1767.1px;top:1598px">13<span class="c">:</span>34<span class="c">:</span>20</div>
<div class="xl" style="left:1888.1px;top:753px">13<span class="c">:</span>34<span class="c">:</span>30</div>
<div class="xl" style="left:1895.3px;top:1598px">13<span class="c">:</span>34<span class="c">:</span>30</div>
<div class="xl" style="left:2017.7px;top:753px">13<span class="c">:</span>34<span class="c">:</span>40</div>
<div class="xl" style="left:2023.6px;top:1598px">13<span class="c">:</span>34<span class="c">:</span>40</div>
<div class="xl" style="left:2147.3px;top:753px">13<span class="c">:</span>34<span class="c">:</span>50</div>
<div class="xl" style="left:2151.8px;top:1598px">13<span class="c">:</span>34<span class="c">:</span>50</div>
<div class="xl" style="left:2276.9px;top:753px">13<span class="c">:</span>35<span class="c">:</span>00</div>
<div class="xl" style="left:2280.1px;top:1598px">13<span class="c">:</span>35<span class="c">:</span>00</div>
<div class="xl" style="left:2406.5px;top:753px">13<span class="c">:</span>35<span class="c">:</span>10</div>
<div class="xl" style="left:2408.3px;top:1598px">13<span class="c">:</span>35<span class="c">:</span>10</div>
<div class="xl" style="left:2536.1px;top:753px">13<span class="c">:</span>35<span class="c">:</span>20</div>
<div class="xl" style="left:2536.5px;top:1598px">13<span class="c">:</span>35<span class="c">:</span>20</div>
<div class="lg" style="left:2362px;top:222px;width:266px;height:144px">
<div class="lgbg"></div>
<div class="lgr2" style="top:72px;height:70px"></div>
<div class="lgv" style="left:0"></div><div class="lgv" style="left:62px"></div><div class="lgv" style="right:0"></div>
<div class="lgh" style="top:70px"></div><div class="lgh" style="top:142px"></div>
<div class="lgbox" style="top:21px"><i style="background:#b14fb0"></i></div>
<div class="lgt" style="top:0px;left:80px"><span class="lat">CPU</span>负载占比</div>
<div class="lgbox" style="top:93px"><i style="background:#4a8bf5"></i></div>
<div class="lgt" style="top:72px;left:80px">内存使用量占比</div>
</div>
<div class="lg" style="left:2434px;top:1067px;width:194px;height:144px">
<div class="lgbg"></div>
<div class="lgr2" style="top:72px;height:70px"></div>
<div class="lgv" style="left:0"></div><div class="lgv" style="left:62px"></div><div class="lgv" style="right:0"></div>
<div class="lgh" style="top:70px"></div><div class="lgh" style="top:142px"></div>
<div class="lgbox" style="top:21px"><i style="background:#b14fb0"></i></div>
<div class="lgt" style="top:0px;left:80px">下载速度</div>
<div class="lgbox" style="top:93px"><i style="background:#4a8bf5"></i></div>
<div class="lgt" style="top:72px;left:80px">上传速度</div>
</div>
</body>
</html>
